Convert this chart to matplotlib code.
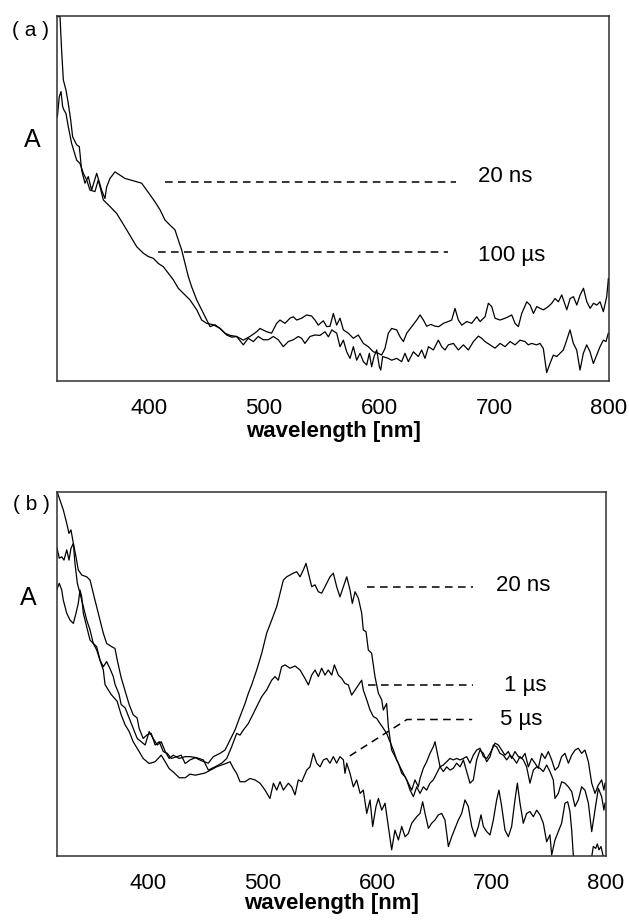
import matplotlib
matplotlib.use("Agg")
import matplotlib.pyplot as plt

plt.rcParams['font.family'] = ['Liberation Sans', 'DejaVu Sans']

# ---------------- panel (a) data ----------------
wl_a_20ns = [321, 322.6, 324, 325.5, 327.8, 329.8, 331.9, 333.6, 337.1, 339.4, 341.4, 344.3, 347.2, 350.1,
             354.5, 358.8, 361.7, 363.2, 366.1, 370.4, 374.8, 379.1, 383.5, 389.3, 393.6, 398, 400.9, 405.2,
             409.6, 413.9, 418.3, 422.6, 425.5, 428.4, 431.3, 434.2, 437.1, 441.5, 445.8, 450.2, 453.1, 457.4,
             461.8, 466.1, 470.4, 476.2, 482, 487.8, 493.6, 496.5, 502.3, 506.6, 511, 513.9, 518.2, 522.6,
             525.5, 528.4, 532.7, 537.1, 541.4, 544.3, 547.2, 551.6, 554.5, 557.4, 560.3, 563.2, 566.1, 569,
             573.3, 577.7, 582, 586.4, 590.7, 595.1, 599.4, 602.3, 605.2, 608.1, 611, 615.4, 618.3, 621.2,
             624.1, 628.4, 632.8, 635.7, 638.6, 641.5, 645, 649, 652, 656, 660.3, 663.2, 666.1, 669, 672,
             676.3, 680.6, 685, 687.9, 692.2, 695.1, 698, 700.9, 705.3, 709.6, 712.5, 715.4, 718.3, 721.2,
             724.1, 728.5, 731.4, 734.3, 737.2, 740.1, 743, 747.3, 750.2, 753.1, 756, 758.9, 763.3, 766.2,
             769.1, 772, 774.9, 777.8, 780.7, 783.6, 786.5, 789.4, 792.2, 795.1, 798, 799.5, 800]
abs_a_20ns = [0.998, 1.0, 0.907, 0.825, 0.797, 0.761, 0.715, 0.669, 0.647, 0.642, 0.578, 0.542, 0.560, 0.523,
              0.569, 0.523, 0.500, 0.532, 0.555, 0.573, 0.564, 0.555, 0.551, 0.546, 0.542, 0.523, 0.510, 0.491,
              0.469, 0.441, 0.427, 0.414, 0.386, 0.359, 0.322, 0.286, 0.258, 0.222, 0.195, 0.167, 0.149, 0.154,
              0.144, 0.131, 0.125, 0.122, 0.112, 0.122, 0.135, 0.144, 0.135, 0.131, 0.158, 0.167, 0.158, 0.172,
              0.176, 0.167, 0.172, 0.181, 0.178, 0.167, 0.153, 0.165, 0.149, 0.150, 0.185, 0.153, 0.172, 0.140,
              0.131, 0.117, 0.126, 0.103, 0.094, 0.080, 0.076, 0.071, 0.089, 0.131, 0.144, 0.140, 0.121, 0.108,
              0.131, 0.149, 0.167, 0.181, 0.167, 0.150, 0.155, 0.150, 0.149, 0.158, 0.163, 0.167, 0.199, 0.167,
              0.153, 0.163, 0.158, 0.176, 0.163, 0.176, 0.213, 0.204, 0.172, 0.167, 0.172, 0.176, 0.181, 0.158,
              0.149, 0.185, 0.217, 0.208, 0.185, 0.204, 0.199, 0.195, 0.204, 0.213, 0.226, 0.217, 0.236, 0.195,
              0.226, 0.231, 0.208, 0.236, 0.254, 0.217, 0.199, 0.213, 0.208, 0.217, 0.190, 0.231, 0.281, 0.267]

wl_a_100us = [320.3, 322, 323.5, 324.9, 326.1, 327.8, 329.8, 332.7, 337.1, 340, 342.9, 345.8, 348.7, 353,
              355.9, 360.3, 366.1, 371.9, 376.2, 380.6, 384.9, 389.3, 395.1, 399.4, 403.8, 408.1, 412.5, 416.8,
              421.2, 425.5, 429.9, 435.7, 441.5, 445.8, 450.2, 456, 461.8, 467.5, 472, 476.2, 482, 486.3, 490.7,
              495, 499.4, 503.7, 508.1, 512.4, 516.8, 521.1, 525.5, 529.8, 532.7, 535.6, 540, 544.3, 548.7, 553,
              556, 559, 563.2, 566.1, 569, 571.9, 574.8, 577.7, 580.6, 583.5, 586.4, 589.3, 591.6, 593.6, 595.7,
              598, 600.3, 601.5, 603.2, 608.1, 611, 615.4, 619.7, 622.6, 625.5, 629.9, 634.2, 637.1, 640, 643,
              647.3, 651.6, 654.5, 657.4, 660.3, 664.7, 669, 673.4, 677.7, 682.1, 686.4, 689.3, 692.2, 696.6,
              700.9, 705.3, 709.6, 714, 718.3, 722.6, 727, 729.8, 732.7, 737.1, 740, 742.9, 745.8, 748.7, 751.6,
              754.5, 757.4, 760.3, 763.2, 766.1, 769, 771.9, 774.8, 777.7, 780.6, 783.5, 786.4, 789.3, 792.2,
              795.1, 797.4, 799.4]
abs_a_100us = [0.724, 0.779, 0.793, 0.752, 0.742, 0.733, 0.697, 0.651, 0.605, 0.596, 0.569, 0.551, 0.523, 0.519,
               0.551, 0.496, 0.478, 0.459, 0.437, 0.414, 0.391, 0.368, 0.350, 0.341, 0.336, 0.322, 0.313, 0.295,
               0.277, 0.254, 0.240, 0.222, 0.195, 0.167, 0.158, 0.154, 0.144, 0.126, 0.120, 0.122, 0.099, 0.117,
               0.108, 0.122, 0.113, 0.113, 0.122, 0.113, 0.094, 0.108, 0.113, 0.122, 0.117, 0.103, 0.122, 0.126,
               0.125, 0.135, 0.121, 0.140, 0.131, 0.094, 0.112, 0.080, 0.062, 0.094, 0.057, 0.076, 0.053, 0.044,
               0.076, 0.039, 0.067, 0.085, 0.039, 0.030, 0.067, 0.062, 0.057, 0.062, 0.053, 0.076, 0.053, 0.080,
               0.067, 0.085, 0.062, 0.094, 0.085, 0.112, 0.094, 0.085, 0.099, 0.103, 0.085, 0.099, 0.085, 0.108,
               0.123, 0.117, 0.108, 0.099, 0.090, 0.103, 0.094, 0.108, 0.099, 0.112, 0.108, 0.099, 0.103, 0.099,
               0.103, 0.089, 0.023, 0.048, 0.071, 0.067, 0.076, 0.085, 0.112, 0.140, 0.103, 0.085, 0.030, 0.076,
               0.099, 0.080, 0.048, 0.071, 0.094, 0.112, 0.108, 0.131]

# ---------------- panel (b) data ----------------
wl_b_20ns = [320.3, 322.6, 325.5, 328.5, 330.5, 332.2, 334.3, 336.6, 338.6, 341.6, 346, 348.9, 351.7, 354.7,
             357.6, 360.5, 363.4, 367.8, 370.7, 372.7, 376.1, 379.6, 383.1, 386.6, 390.1, 391.8, 395.3, 398.8,
             402.3, 405.8, 409.4, 412.9, 416.4, 419.9, 425.1, 428.6, 432.1, 436.3, 441, 446, 452.3, 456.7, 462.5,
             466.9, 471.3, 475.6, 480, 484.4, 487.3, 490.2, 494.6, 499, 503.3, 507.7, 512.1, 515, 517.9, 520.8,
             523.7, 526.6, 529.6, 532.5, 535.4, 537.7, 539.8, 542.7, 545.6, 548.5, 551.4, 554.3, 558.7, 561.6,
             564.5, 567.4, 570.4, 573.3, 576.2, 578.2, 580.6, 583.5, 586.4, 587.8, 590.2, 592.2, 595.1, 598, 601,
             603.9, 605.3, 608.2, 609.7, 612.6, 615.5, 618.5, 621.4, 624.3, 627.2, 630.1, 633, 635.9, 637.4,
             640.3, 643.2, 646.1, 649, 650.5, 652.5, 654.9, 657.8, 660.7, 663.6, 666.5, 669.4, 672.4, 675.3,
             678.2, 681.1, 684, 686.9, 689.8, 692.8, 695.7, 698.6, 701.5, 703, 705.9, 708.8, 711.7, 714.6, 717.5,
             720.4, 723.4, 726.3, 729.2, 732.1, 735, 737.9, 740.8, 743.7, 746.7, 749.6, 752.5, 755.4, 758.3,
             761.2, 764.1, 767.1, 770, 772.9, 775.8, 778.7, 781.6, 784.6, 787.5, 790.4, 793.3, 796.2, 798.2, 799.1]
abs_b_20ns = [0.999, 0.978, 0.951, 0.914, 0.886, 0.896, 0.859, 0.822, 0.786, 0.772, 0.767, 0.758, 0.722, 0.685,
              0.648, 0.612, 0.584, 0.575, 0.570, 0.538, 0.490, 0.453, 0.416, 0.388, 0.379, 0.351, 0.323, 0.333,
              0.337, 0.305, 0.314, 0.287, 0.282, 0.268, 0.273, 0.277, 0.254, 0.264, 0.270, 0.262, 0.255, 0.273,
              0.282, 0.291, 0.319, 0.346, 0.383, 0.419, 0.447, 0.470, 0.511, 0.557, 0.612, 0.648, 0.685, 0.722,
              0.758, 0.767, 0.772, 0.777, 0.781, 0.767, 0.786, 0.804, 0.777, 0.740, 0.745, 0.726, 0.722, 0.740,
              0.767, 0.777, 0.740, 0.712, 0.740, 0.767, 0.731, 0.694, 0.726, 0.708, 0.667, 0.621, 0.616, 0.566,
              0.557, 0.493, 0.447, 0.429, 0.401, 0.419, 0.355, 0.291, 0.273, 0.255, 0.227, 0.218, 0.200, 0.181,
              0.209, 0.190, 0.213, 0.241, 0.259, 0.282, 0.300, 0.314, 0.282, 0.245, 0.250, 0.259, 0.268, 0.264,
              0.268, 0.264, 0.268, 0.273, 0.255, 0.277, 0.291, 0.296, 0.273, 0.268, 0.282, 0.300, 0.310, 0.305,
              0.291, 0.277, 0.287, 0.268, 0.287, 0.273, 0.268, 0.282, 0.245, 0.268, 0.255, 0.241, 0.282, 0.268,
              0.287, 0.264, 0.236, 0.245, 0.273, 0.282, 0.255, 0.277, 0.291, 0.296, 0.282, 0.291, 0.259, 0.200,
              0.172, 0.195, 0.209, 0.181, 0.200]

wl_b_1us = [319.7, 322, 324.1, 326.1, 328.5, 330.5, 332.2, 334.3, 335.7, 337.8, 340.1, 343, 346, 348.9, 351.7,
            354.7, 357.6, 360.5, 363.4, 366.3, 369.2, 370.8, 374.3, 376.1, 379.6, 383.1, 386.6, 390.1, 393.6,
            397.1, 400.6, 404.1, 407.6, 411.1, 414.6, 418.1, 421.6, 426.9, 432.1, 436.3, 442, 448, 452.3, 458.2,
            464, 468.4, 472.7, 477.1, 480, 482.9, 487.3, 491.7, 494.6, 499, 503.3, 507.7, 510.6, 513.5, 516.4,
            519.4, 523.7, 528.1, 532.5, 536.8, 539.8, 542.7, 545.6, 548.5, 551.4, 554.3, 557.2, 560.2, 562.5, 566,
            568.9, 571.8, 574.7, 577.6, 580.6, 583.5, 586.4, 587.8, 590.8, 593.7, 596.6, 599.5, 602.4, 605.3,
            608.2, 611.2, 614.1, 617, 619.9, 622.8, 625.7, 628.7, 631.6, 634.5, 637.4, 640.3, 643.2, 646.1, 649,
            652, 654.9, 657.8, 660.7, 663.6, 666.5, 669.4, 672.4, 675.3, 678.2, 681.1, 684, 686.9, 689.8, 692.8,
            695.7, 698.6, 701.5, 704.4, 707.3, 710.2, 713.2, 716.1, 719, 721.9, 724.8, 727.7, 730.6, 733.5,
            736.5, 739.4, 742.3, 745.2, 748.1, 751, 753.9, 755.4, 758.3, 761.2, 764.1, 767.1, 770, 772.9, 775.8,
            778.7, 781.6, 784.6, 787.5, 790.4, 793.3, 796.2, 798.2, 799.1]
abs_b_1us = [0.850, 0.818, 0.822, 0.813, 0.841, 0.813, 0.845, 0.859, 0.804, 0.749, 0.722, 0.685, 0.648, 0.621,
             0.584, 0.566, 0.538, 0.520, 0.534, 0.515, 0.493, 0.471, 0.444, 0.416, 0.407, 0.379, 0.351, 0.323,
             0.314, 0.305, 0.342, 0.323, 0.305, 0.314, 0.287, 0.268, 0.277, 0.268, 0.273, 0.273, 0.270, 0.264,
             0.236, 0.245, 0.255, 0.268, 0.300, 0.337, 0.332, 0.346, 0.364, 0.392, 0.410, 0.438, 0.456, 0.483,
             0.493, 0.483, 0.520, 0.525, 0.516, 0.522, 0.511, 0.488, 0.470, 0.497, 0.511, 0.493, 0.516, 0.497,
             0.511, 0.497, 0.525, 0.497, 0.488, 0.474, 0.470, 0.442, 0.456, 0.470, 0.483, 0.456, 0.429, 0.401,
             0.383, 0.378, 0.364, 0.351, 0.337, 0.314, 0.291, 0.264, 0.245, 0.227, 0.209, 0.181, 0.163, 0.190,
             0.172, 0.190, 0.181, 0.200, 0.209, 0.227, 0.245, 0.232, 0.245, 0.236, 0.241, 0.255, 0.245, 0.264,
             0.232, 0.200, 0.209, 0.264, 0.291, 0.282, 0.259, 0.273, 0.305, 0.300, 0.282, 0.277, 0.264, 0.277,
             0.268, 0.255, 0.273, 0.264, 0.245, 0.200, 0.236, 0.245, 0.241, 0.232, 0.250, 0.232, 0.209, 0.158,
             0.172, 0.204, 0.200, 0.190, 0.177, 0.136, 0.154, 0.190, 0.181, 0.145, 0.067, 0.126, 0.186, 0.163,
             0.126, 0.145]

wl_b_5us = [319.7, 322, 324.1, 325.5, 328.5, 331.4, 334.3, 336.6, 338.6, 340.1, 341.6, 343, 346, 348.9, 351.7,
            354.7, 357.6, 360.5, 362, 367.3, 372.6, 376.1, 379.6, 383.1, 386.6, 391.8, 395.3, 400.6, 405.8,
            411.1, 414.6, 418.1, 421.6, 426.9, 432.1, 436.3, 441, 449.4, 459.6, 464, 468.4, 471.3, 474.2, 477.1,
            480, 484.4, 488.8, 493.1, 497.5, 501.9, 506.2, 509.2, 512.1, 515, 517.9, 522.3, 525.2, 528.1, 531,
            534, 538.3, 541.2, 544.1, 547.1, 550, 552.9, 555.8, 558.7, 561.6, 564.5, 567.4, 570.4, 571.8, 573.3,
            576.2, 579.1, 582, 585, 587.8, 590.8, 593.7, 596, 598.9, 601, 603.9, 606.8, 609.7, 612.6, 615.5,
            618.5, 621.4, 624.3, 627.2, 630.1, 634.5, 637.4, 639.7, 641.8, 644.7, 647.6, 650.5, 653.4, 656.3,
            659.2, 662.2, 665.1, 668, 670.9, 673.8, 676.7, 679.6, 682.6, 685.5, 688.4, 690.7, 692.8, 695.7,
            698.6, 701.5, 704.4, 706.4, 708.8, 711.7, 714.6, 717.5, 720.4, 722.5, 724.8, 727.7, 730.6, 733.5,
            736.5, 739.4, 742.3, 745.2, 748.1, 751, 752.5, 755.4, 758.3, 761.2, 764.1, 766.5, 768.5, 770, 771.4,
            774.3, 783.1, 787.5, 788.9, 791, 792.4, 793.9, 795.6, 797.7, 799.1]
abs_b_5us = [0.731, 0.749, 0.731, 0.703, 0.667, 0.648, 0.639, 0.667, 0.694, 0.731, 0.712, 0.667, 0.630, 0.593,
             0.584, 0.575, 0.538, 0.511, 0.471, 0.444, 0.425, 0.388, 0.360, 0.342, 0.314, 0.287, 0.268, 0.254,
             0.259, 0.277, 0.259, 0.240, 0.231, 0.215, 0.215, 0.225, 0.222, 0.228, 0.245, 0.250, 0.255, 0.259,
             0.241, 0.227, 0.204, 0.204, 0.213, 0.209, 0.200, 0.181, 0.158, 0.200, 0.181, 0.204, 0.181, 0.200,
             0.190, 0.168, 0.209, 0.204, 0.236, 0.245, 0.282, 0.255, 0.245, 0.264, 0.268, 0.255, 0.273, 0.255,
             0.273, 0.264, 0.227, 0.255, 0.227, 0.190, 0.209, 0.172, 0.181, 0.117, 0.154, 0.081, 0.136, 0.158,
             0.126, 0.145, 0.081, 0.017, 0.071, 0.044, 0.081, 0.053, 0.062, 0.090, 0.108, 0.117, 0.149, 0.117,
             0.076, 0.090, 0.099, 0.113, 0.117, 0.099, 0.026, 0.053, 0.076, 0.099, 0.117, 0.154, 0.136, 0.081,
             0.053, 0.081, 0.113, 0.081, 0.067, 0.058, 0.099, 0.154, 0.181, 0.136, 0.071, 0.053, 0.081, 0.154,
             0.200, 0.145, 0.090, 0.117, 0.122, 0.108, 0.126, 0.113, 0.090, 0.039, 0.058, 0.003, 0.044, 0.067,
             0.090, 0.145, 0.149, 0.122, 0.071, 0.003, -0.030, -0.030, -0.002, 0.026, 0.021, 0.033, 0.017, 0.026,
             -0.002, -0.002]

# label leader lines (wavelength, absorbance) and label texts
labels_a = ["20 ns", "100 µs"]
lead_a_x = [[414, 667], [408, 660]]
lead_a_y = [[0.545, 0.545], [0.354, 0.354]]
text_a_x = [686, 686]
text_a_y = [0.560, 0.345]

labels_b = ["20 ns", "1 µs", "5 µs"]
lead_b_x = [[591, 684], [592, 684], [576, 626, 683]]
lead_b_y = [[0.740, 0.740], [0.470, 0.470], [0.275, 0.375, 0.375]]
text_b_x = [704, 711, 707]
text_b_y = [0.742, 0.468, 0.374]

xticks = [400, 500, 600, 700, 800]

W, H = 629, 921
fig = plt.figure(figsize=(W / 100, H / 100), dpi=100)

def px_axes(l, t, r, b):
    return fig.add_axes([l / W, 1 - b / H, (r - l) / W, (b - t) / H])

ax_a = px_axes(57, 16, 609, 381)
ax_b = px_axes(57, 492, 606, 856)

def style(ax):
    ax.set_xlim(320, 800)
    ax.set_ylim(0, 1)
    ax.set_yticks([])
    ax.set_xticks(xticks)
    ax.set_xticklabels([str(t) for t in xticks])
    ax.tick_params(axis='x', length=0, pad=12.5, labelsize=16)
    for s in ax.spines.values():
        s.set_color('#303030')
        s.set_linewidth(1.1)
    ax.set_xlabel("wavelength [nm]", fontsize=16, fontweight='bold', va='center')

style(ax_a)
style(ax_b)
ax_a.xaxis.set_label_coords(0.5, -50 / 365)
ax_b.xaxis.set_label_coords(0.5, -47 / 364)

lw = 0.9
ax_a.plot(wl_a_20ns, abs_a_20ns, color='black', lw=lw)
ax_a.plot(wl_a_100us, abs_a_100us, color='black', lw=lw)
ax_b.plot(wl_b_20ns, abs_b_20ns, color='black', lw=lw)
ax_b.plot(wl_b_1us, abs_b_1us, color='black', lw=lw)
ax_b.plot(wl_b_5us, abs_b_5us, color='black', lw=lw)

dash = (0, (5, 3.5))
for lx, ly, tx, ty, lab in zip(lead_a_x, lead_a_y, text_a_x, text_a_y, labels_a):
    ax_a.plot(lx, ly, color='black', lw=1.1, linestyle=dash)
    ax_a.text(tx, ty, lab, fontsize=16, ha='left', va='center')
for lx, ly, tx, ty, lab in zip(lead_b_x, lead_b_y, text_b_x, text_b_y, labels_b):
    ax_b.plot(lx, ly, color='black', lw=1.1, linestyle=dash)
    ax_b.text(tx, ty, lab, fontsize=16, ha='left', va='center')

fig.text(31 / W, 1 - 30 / H, "( a )", fontsize=15, ha='center', va='center')
fig.text(31 / W, 1 - 505 / H, "( b )", fontsize=15, ha='center', va='center')
fig.text(32 / W, 1 - 140 / H, "A", fontsize=18, ha='center', va='center')
fig.text(28 / W, 1 - 598 / H, "A", fontsize=18, ha='center', va='center')

fig.savefig("out.png", dpi=100)
